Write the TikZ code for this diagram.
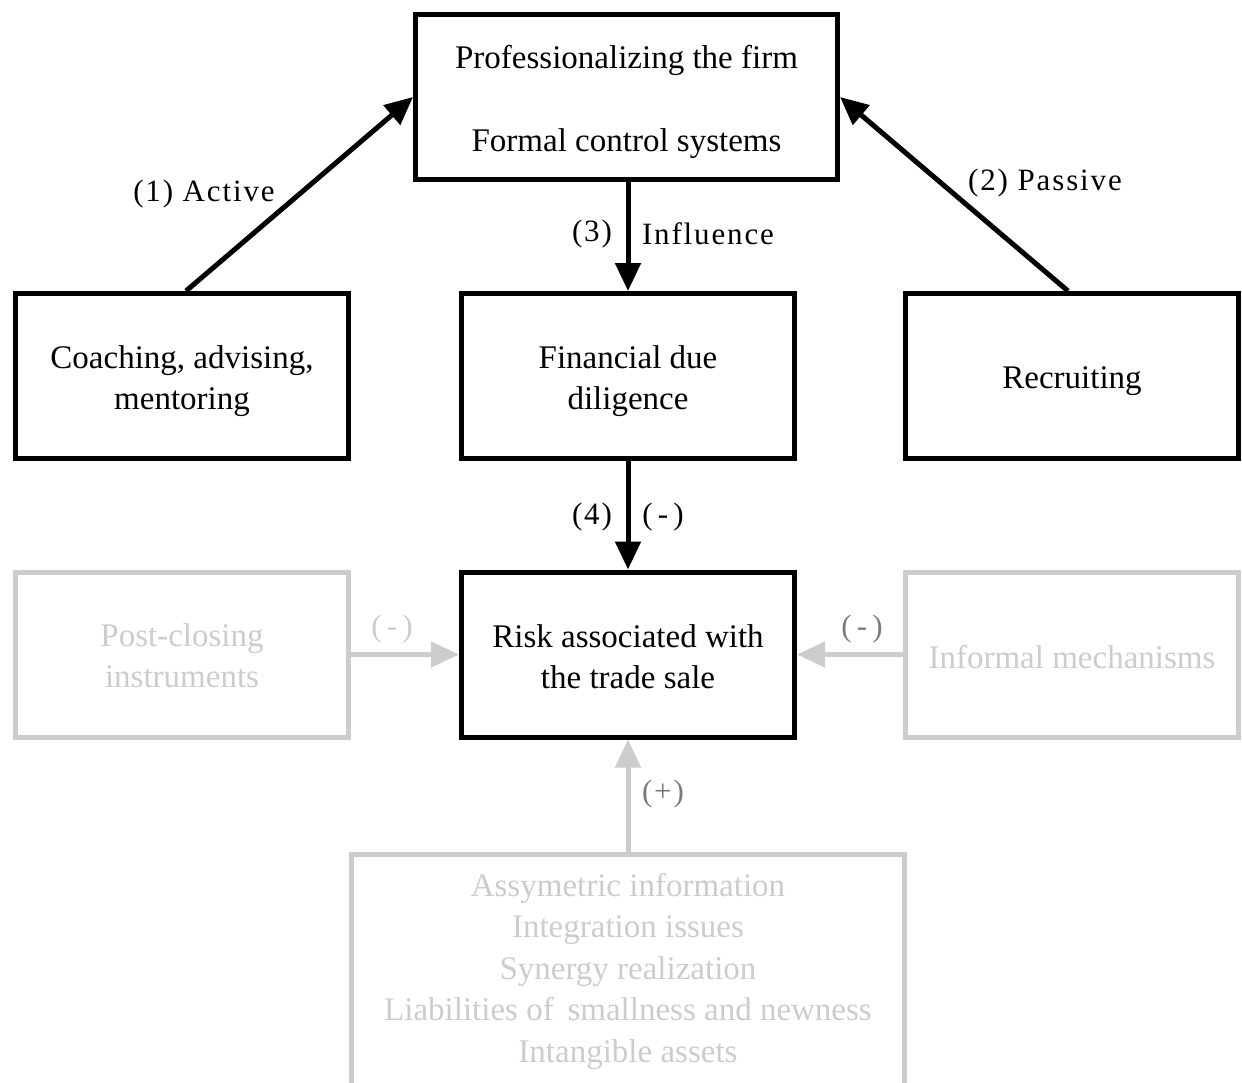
\documentclass[tikz,border=0pt]{standalone}
\usepackage{fontspec}
\setmainfont{Liberation Serif}
\newfontfamily\labfont[LetterSpace=6]{Liberation Serif}
\usetikzlibrary{arrows.meta}
\definecolor{lg}{HTML}{CCCCCC}
\definecolor{dg}{HTML}{7A7A7A}
\newcommand{\boxfs}{\fontsize{33}{41.5}\selectfont}
\newcommand{\labfs}{\labfont\fontsize{31}{34}\selectfont}
\begin{document}
\begin{tikzpicture}[x=1pt,y=-1pt,
  box/.style={draw, line width=5pt, minimum width=333pt, minimum height=165pt, inner sep=0pt},
  graybox/.style={box, draw=lg},
  txt/.style={inner sep=0pt, align=center, font=\boxfs},
  graytxt/.style={txt, text=lg},
  arr/.style={line width=5pt, -{Triangle[length=28pt,width=25pt]}},
  grayarr/.style={arr, draw=lg, fill=lg},
  lab/.style={font=\labfs, inner sep=0pt}]
\useasboundingbox (0,0) rectangle (1242,1082);
\clip (0,0) rectangle (1242,1082);
\node[box, minimum width=422pt] (top) at (626.5,97) {};
\node[box] (coach) at (182,376) {};
\node[box] (fin) at (628,376) {};
\node[box] (recr) at (1072,376) {};
\node[box] (risk) at (628,654.5) {};
\node[graybox] (post) at (182,654.5) {};
\node[graybox] (inf) at (1072,654.5) {};
\node[graybox, minimum width=553pt, minimum height=250pt, anchor=north] (bot) at (628,851.5) {};
\node[txt] (toptext) at ([yshift=-5pt]top.center) {Professionalizing the firm\\[42pt]Formal control systems};
\node[txt] (coachtext) at ([yshift=-5pt]coach.center) {Coaching, advising,\\mentoring};
\node[txt] (fintext) at ([yshift=-5pt]fin.center) {Financial due\\diligence};
\node[txt] (recrtext) at ([yshift=-5pt]recr.center) {Recruiting};
\node[txt] (risktext) at ([yshift=-2pt]risk.center) {Risk associated with\\the trade sale};
\node[graytxt] (posttext) at ([yshift=-1pt]post.center) {Post-closing\\instruments};
\node[graytxt] (inftext) at ([yshift=-3pt]inf.center) {Informal mechanisms};
\node[graytxt] (bottext) at (628,971) {Assymetric information\\Integration issues\\Synergy realization\\Liabilities of\, smallness and newness\\Intangible assets};
\draw[arr] ([xshift=4pt]coach.north) -- (top.west);
\draw[arr] ([xshift=-4pt]recr.north) -- (top.east);
\draw[arr] (fin.north |- top.south) -- (fin.north);
\draw[arr] (fin.south) -- (risk.north);
\draw[grayarr] (post.east) -- (risk.west);
\draw[grayarr] (inf.west) -- (risk.east);
\draw[grayarr] (bot.north) -- (risk.south);
\node[lab] (l1) at (204,194) {(1) Active};
\node[lab] (l2) at (1045,183) {(2) Passive};
\node[lab] (l3) at (592,234) {(3)};
\node[lab] (l3b) at (708,234) {Influence};
\node[lab] (l4) at (592,517) {(4)};
\node[lab] (l4b) at (663,517) {(\,-\,)};
\node[lab, text=lg] (l5) at (392,629) {(\,-\,)};
\node[lab, text=dg] (l6) at (862,629) {(\,-\,)};
\node[lab, text=dg] (l7) at (663,794) {(+)};
\end{tikzpicture}
\end{document}
